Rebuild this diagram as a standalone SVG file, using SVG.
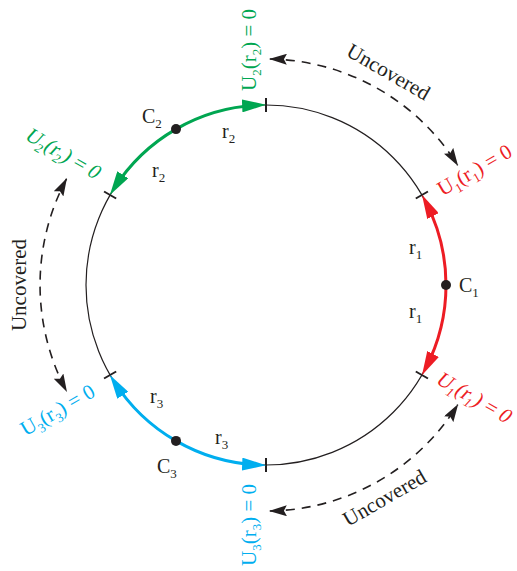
<svg xmlns="http://www.w3.org/2000/svg" width="517" height="571" viewBox="0 0 517 571">
<defs>
<style>
text{font-family:"Liberation Serif","Times New Roman",serif;font-size:20px;fill:#231f20}
.eq{font-size:21px}
.sub{font-size:13px}
.unc{font-size:21px}
.tg{fill:#00a651}.tr{fill:#ed1c24}.tb{fill:#00aeef}
.circle{fill:none;stroke:#231f20;stroke-width:1.2}
.tick{stroke:#231f20;stroke-width:2}
.dash{fill:none;stroke:#231f20;stroke-width:1.6;stroke-dasharray:9 7}
.ag{fill:none;stroke:#00a651;stroke-width:3;marker-end:url(#mg)}
.ar{fill:none;stroke:#ed1c24;stroke-width:3;marker-end:url(#mr)}
.ab{fill:none;stroke:#00aeef;stroke-width:3;marker-end:url(#mb)}
.dot{fill:#231f20}
</style>
<marker id="mg" markerUnits="userSpaceOnUse" viewBox="0 0 24 13" markerWidth="24" markerHeight="13" refX="16" refY="6.5" orient="auto"><path d="M0,0 L24,6.5 L0,13 z" fill="#00a651"/></marker>
<marker id="mr" markerUnits="userSpaceOnUse" viewBox="0 0 24 13" markerWidth="24" markerHeight="13" refX="16" refY="6.5" orient="auto"><path d="M0,0 L24,6.5 L0,13 z" fill="#ed1c24"/></marker>
<marker id="mb" markerUnits="userSpaceOnUse" viewBox="0 0 24 13" markerWidth="24" markerHeight="13" refX="16" refY="6.5" orient="auto"><path d="M0,0 L24,6.5 L0,13 z" fill="#00aeef"/></marker>
<marker id="mk" markerUnits="userSpaceOnUse" viewBox="0 0 18 11" markerWidth="18" markerHeight="11" refX="17" refY="5.5" orient="auto-start-reverse"><path d="M0,0 L18,5.5 L0,11 L3,5.5 z" fill="#231f20"/></marker>
</defs>

<g id="circle">
<circle class="circle" cx="266" cy="285" r="180"/>
<line class="tick" x1="266" y1="98" x2="266" y2="112"/>
<line class="tick" x1="104.04" y1="191.5" x2="116.16" y2="198.5"/>
<line class="tick" x1="415.8" y1="198.5" x2="427.96" y2="191.5"/>
<line class="tick" x1="415.8" y1="371.5" x2="427.96" y2="378.5"/>
<line class="tick" x1="104.04" y1="378.5" x2="116.16" y2="371.5"/>
<line class="tick" x1="266" y1="458" x2="266" y2="472"/>
</g>

<g id="C1">
<path class="ar" d="M446,285 A180,180 0 0 0 425.66,201.89"/>
<path class="ar" d="M446,285 A180,180 0 0 1 425.66,368.11"/>
<circle class="dot" cx="446" cy="285" r="5"/>
<text x="459" y="292">C<tspan class="sub" dy="5">1</tspan></text>
<text x="409" y="254">r<tspan class="sub" dy="5">1</tspan></text>
<text x="409" y="318">r<tspan class="sub" dy="5">1</tspan></text>
</g>

<g id="C2">
<path class="ag" d="M176,129.12 A180,180 0 0 1 258.15,105.17"/>
<path class="ag" d="M176,129.12 A180,180 0 0 0 114.19,188.29"/>
<circle class="dot" cx="176" cy="129.12" r="5"/>
<text x="142" y="123">C<tspan class="sub" dy="5">2</tspan></text>
<text x="222" y="138">r<tspan class="sub" dy="5">2</tspan></text>
<text x="152" y="177">r<tspan class="sub" dy="5">2</tspan></text>
</g>

<g id="C3">
<path class="ab" d="M176,440.88 A180,180 0 0 1 114.19,381.71"/>
<path class="ab" d="M176,440.88 A180,180 0 0 0 258.15,464.83"/>
<circle class="dot" cx="176" cy="440.88" r="5"/>
<text x="157" y="473">C<tspan class="sub" dy="5">3</tspan></text>
<text x="150" y="403">r<tspan class="sub" dy="5">3</tspan></text>
<text x="215" y="444">r<tspan class="sub" dy="5">3</tspan></text>
</g>

<g id="boundary-labels">
<text class="eq tr" text-anchor="middle" transform="translate(478,176) rotate(-30)">U<tspan class="sub" dy="5">1</tspan><tspan dy="-5">(r</tspan><tspan class="sub" dy="5">1</tspan><tspan dy="-5">) = 0</tspan></text>
<text class="eq tr" text-anchor="middle" transform="translate(470,403) rotate(30) skewX(-12)">U<tspan class="sub" dy="5">1</tspan><tspan dy="-5">(r</tspan><tspan class="sub" dy="5">1</tspan><tspan dy="-5">) = 0</tspan></text>
<text class="eq tg" text-anchor="middle" transform="translate(256,50) rotate(-90)">U<tspan class="sub" dy="5">2</tspan><tspan dy="-5">(r</tspan><tspan class="sub" dy="5">2</tspan><tspan dy="-5">) = 0</tspan></text>
<text class="eq tg" text-anchor="middle" transform="translate(59,159) rotate(30) skewX(-12)">U<tspan class="sub" dy="5">2</tspan><tspan dy="-5">(r</tspan><tspan class="sub" dy="5">2</tspan><tspan dy="-5">) = 0</tspan></text>
<text class="eq tb" text-anchor="middle" transform="translate(61,416) rotate(-30)">U<tspan class="sub" dy="5">3</tspan><tspan dy="-5">(r</tspan><tspan class="sub" dy="5">3</tspan><tspan dy="-5">) = 0</tspan></text>
<text class="eq tb" text-anchor="middle" transform="translate(256,525) rotate(-90)">U<tspan class="sub" dy="5">3</tspan><tspan dy="-5">(r</tspan><tspan class="sub" dy="5">3</tspan><tspan dy="-5">) = 0</tspan></text>
</g>

<g id="connectors">
<path class="dash" d="M269.9,59 A226,226 0 0 1 457.6,165.2" marker-start="url(#mk)" marker-end="url(#mk)"/>
<path class="dash" d="M66.5,178.9 A226,226 0 0 0 66.5,391.1" marker-start="url(#mk)" marker-end="url(#mk)"/>
<path class="dash" d="M269.9,511 A226,226 0 0 0 457.7,404.8" marker-start="url(#mk)" marker-end="url(#mk)"/>
<text class="unc" text-anchor="middle" transform="translate(385,78) rotate(30)">Uncovered</text>
<text class="unc" text-anchor="middle" transform="translate(26,285) rotate(-90)">Uncovered</text>
<text class="unc" text-anchor="middle" transform="translate(388,504) rotate(-30)">Uncovered</text>
</g>
</svg>
